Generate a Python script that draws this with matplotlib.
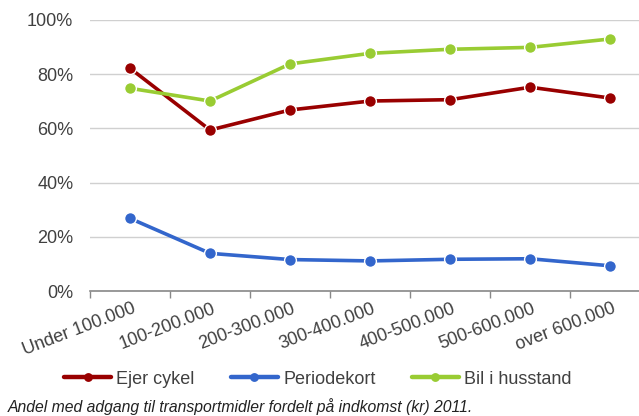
import matplotlib.pyplot as plt
from matplotlib.ticker import FuncFormatter

plt.rcParams['font.family'] = ['Liberation Sans', 'DejaVu Sans']

categories = ['Under 100.000', '100-200.000', '200-300.000', '300-400.000',
              '400-500.000', '500-600.000', 'over 600.000']
ejer_cykel = [82.2, 59.4, 66.8, 70.1, 70.6, 75.2, 71.2]
periodekort = [26.8, 13.9, 11.6, 11.1, 11.7, 11.9, 9.3]
bil = [74.8, 70.1, 83.8, 87.7, 89.2, 89.9, 93.0]

series_names = ['Ejer cykel', 'Periodekort', 'Bil i husstand']
colors = ['#990000', '#3366cc', '#99cc33']

fig = plt.figure(figsize=(6.39, 4.16), dpi=100)
ax = fig.add_axes([90 / 639, 1 - 291 / 416, 1 - 90 / 639, 271 / 416])

x = range(len(categories))
for vals, name, c in zip([ejer_cykel, periodekort, bil], series_names, colors):
    ax.plot(x, vals, color=c, lw=2.6, marker='o', ms=8.5, mfc=c,
            mec='white', mew=1.0, label=name, solid_capstyle='round')

ax.set_ylim(0, 100)
ax.set_xlim(-0.5, 6.36)
ax.set_yticks(range(0, 101, 20))
ax.yaxis.set_major_formatter(FuncFormatter(lambda v, p: '%d%%' % v))
ax.grid(axis='y', color='#d0d0d0', lw=1)
ax.set_axisbelow(True)
for s in ['top', 'right', 'left']:
    ax.spines[s].set_visible(False)
ax.spines['bottom'].set_color('#888888')
ax.spines['bottom'].set_linewidth(1.2)

ax.set_xticks([i - 0.5 for i in range(7)])
ax.set_xticklabels([])
ax.tick_params(axis='x', length=5, color='#888888', width=1)
ax.tick_params(axis='y', length=0, labelsize=13, labelcolor='#404040', pad=12)

for i, lab in enumerate(categories):
    ax.text(i + 0.02, -3.5, lab, rotation=21, ha='right', va='top',
            rotation_mode='anchor', fontsize=13, color='#404040',
            transform=ax.transData, clip_on=False)

leg = ax.legend(loc='center', bbox_to_anchor=(0.415, -0.325), ncol=3, frameon=False,
                fontsize=13, handlelength=2.6, columnspacing=2.0, handletextpad=0.3,
                labelcolor='#404040', markerscale=0.75)
for h in leg.get_lines():
    h.set_linewidth(3.2)
    h.set_markeredgewidth(0)

fig.text(8 / 639, 1 - 407 / 416, 'Andel med adgang til transportmidler fordelt på indkomst (kr) 2011.',
         fontsize=11.3, style='italic', color='#222222', va='center')

fig.savefig('out.png', dpi=100)
